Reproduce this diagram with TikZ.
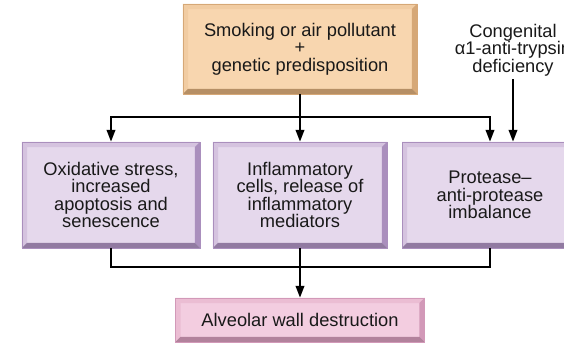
\documentclass[tikz,border=0pt]{standalone}
\usepackage{fontspec}
\setmainfont{Liberation Sans}
\usetikzlibrary{arrows.meta}

\definecolor{peachface}{HTML}{F8D6AF}
\definecolor{peachlight}{HTML}{F1CCA2}
\definecolor{peachdark}{HTML}{D6A877}
\definecolor{lilacface}{HTML}{E5D8EC}
\definecolor{lilaclight}{HTML}{D5C3DF}
\definecolor{lilacdark}{HTML}{AA8FBD}
\definecolor{pinkface}{HTML}{F3CDE0}
\definecolor{pinklight}{HTML}{EBBDD3}
\definecolor{pinkdark}{HTML}{D299B8}

\tikzset{
  bevelbox/.style n args={3}{rectangle, fill=#1, draw=#3, line width=0.3pt,
    align=center, inner sep=0pt, text=black!90,
    path picture={
      \fill[#2] (path picture bounding box.north west) -- (path picture bounding box.north east)
        -- ([shift={(-0.13,-0.13)}]path picture bounding box.north east)
        -- ([shift={(0.13,-0.13)}]path picture bounding box.north west) -- cycle;
      \fill[#2] (path picture bounding box.north west) -- ([shift={(0.13,-0.13)}]path picture bounding box.north west)
        -- ([shift={(0.13,0.13)}]path picture bounding box.south west) -- (path picture bounding box.south west) -- cycle;
      \fill[#3] (path picture bounding box.north east) -- (path picture bounding box.south east)
        -- ([shift={(-0.13,0.13)}]path picture bounding box.south east)
        -- ([shift={(-0.13,-0.13)}]path picture bounding box.north east) -- cycle;
      \fill[#3!85!black] (path picture bounding box.south west) -- (path picture bounding box.south east)
        -- ([shift={(-0.13,0.13)}]path picture bounding box.south east)
        -- ([shift={(0.13,0.13)}]path picture bounding box.south west) -- cycle;
    }},
  link/.style={line width=1.6pt, >={Triangle[length=8.5pt,width=6pt]}}
}

\begin{document}
\begin{tikzpicture}[font=\fontsize{13}{12.4}\selectfont]

    % picture frame
    \clip (0,0) rectangle (14.1,-8.575);

    % Define row heights
    \def\rowy{-4.875}  % middle row
    \def\boxh{2.65}    % middle box height

    % Cause at the top
    \node[bevelbox={peachface}{peachlight}{peachdark}, minimum width=5.85cm, minimum height=2.25cm]
        (Src) at (7.5,-1.225) {Smoking or air pollutant\\+\\genetic predisposition};

    % Inherited cause
    \node[align=center, inner sep=2pt, text=black!90] (Cong) at (12.825,-1.25)
        {Congenital\\α1-anti-trypsin\\deficiency};

    % Middle row of mechanisms
    \node[bevelbox={lilacface}{lilaclight}{lilacdark}, minimum width=4.45cm, minimum height=\boxh cm]
        (M-1) at (2.775,\rowy) {Oxidative stress,\\increased\\apoptosis and\\senescence};
    \node[bevelbox={lilacface}{lilaclight}{lilacdark}, minimum width=4.35cm, minimum height=\boxh cm]
        (M-2) at (7.5,\rowy) {Inflammatory\\cells, release of\\inflammatory\\mediators};
    \node[bevelbox={lilacface}{lilaclight}{lilacdark}, minimum width=4.4cm, minimum height=\boxh cm]
        (M-3) at (12.25,\rowy) {Protease–\\anti-protease\\imbalance};

    % Result
    \node[bevelbox={pinkface}{pinklight}{pinkdark}, minimum width=6.225cm, minimum height=1.1cm]
        (Out) at (7.5,-8.0) {Alveolar wall destruction};

    % Connections from the causes
    \draw[link, ->] (Src.south) -- (M-2.north);
    \draw[link, ->] (Src.south) -- ++(0,-0.575) -| (M-1.north);
    \draw[link, ->] (Src.south) -- ++(0,-0.575) -| (M-3.north);
    \draw[link, ->] (Cong.south) -- (Cong.south |- M-3.north);

    % Connections to the result
    \draw[link] (M-1.south) -- ++(0,-0.475) -| (M-3.south);
    \draw[link, ->] (M-2.south) -- (Out.north);

\end{tikzpicture}
\end{document}
